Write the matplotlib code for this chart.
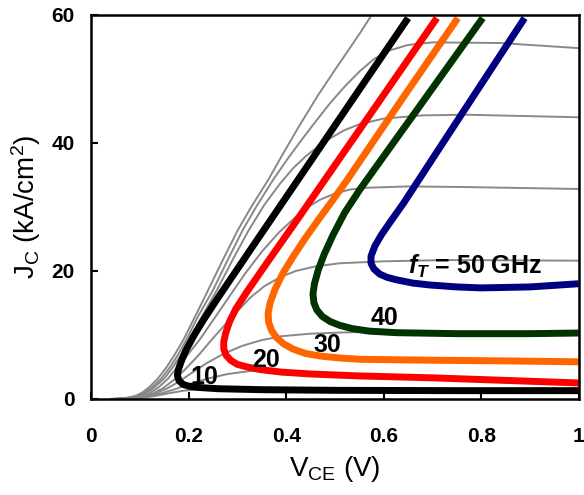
import numpy as np
import matplotlib
matplotlib.use('Agg')
import matplotlib.pyplot as plt

plt.rcParams['font.family'] = ['Liberation Sans', 'DejaVu Sans']
plt.rcParams['mathtext.fontset'] = 'custom'
plt.rcParams['mathtext.rm'] = 'Liberation Sans'
plt.rcParams['mathtext.it'] = 'Liberation Sans:italic:bold'
plt.rcParams['mathtext.bf'] = 'Liberation Sans:bold'

# gray J-V output curves, VCE in V, JC in kA/cm2
gA_x = [0.04, 0.07, 0.09, 0.105, 0.12, 0.137, 0.155, 0.172, 0.189, 0.214, 0.24, 0.27, 0.301, 0.33, 0.363,
        0.395, 0.428, 0.465, 0.50, 0.551, 0.578]
gA_y = [0, 0.15, 0.45, 1.0, 1.9, 3.2, 5.0, 7.0, 9.2, 13, 17, 21.7, 26.4, 30.2, 34.2,
        38.5, 42.8, 47.4, 51.4, 57.1, 60.3]
gB_x = [0.045, 0.075, 0.095, 0.11, 0.126, 0.144, 0.162, 0.179, 0.195, 0.22, 0.25, 0.28, 0.311, 0.34, 0.373,
        0.402, 0.428, 0.46, 0.49, 0.52, 0.551, 0.58, 0.61, 0.65, 0.70, 0.84, 1.0]
gB_y = [0, 0.15, 0.45, 1.0, 1.9, 3.2, 5.0, 7.0, 9.2, 13, 17, 21.7, 26.4, 30.2, 34.2,
        37.4, 40.1, 43.3, 46.2, 48.8, 51.2, 53.1, 54.4, 55.3, 55.7, 55.6, 54.8]
gC_x = [0.05, 0.08, 0.10, 0.115, 0.131, 0.15, 0.168, 0.185, 0.201, 0.228, 0.258, 0.29, 0.322, 0.355, 0.387,
        0.415, 0.44, 0.465, 0.49, 0.52, 0.55, 0.6, 0.68, 0.77, 1.0]
gC_y = [0, 0.15, 0.45, 1.0, 1.9, 3.2, 5.0, 7.0, 9.2, 13, 17, 21.7, 26.2, 30.3, 33.6,
        36.1, 37.9, 39.4, 40.7, 42.0, 42.9, 43.8, 44.3, 44.4, 44.0]
gD_x = [0.05, 0.085, 0.105, 0.12, 0.138, 0.157, 0.177, 0.2, 0.223, 0.25, 0.279, 0.315, 0.35, 0.385, 0.422,
        0.445, 0.469, 0.5, 0.53, 0.566, 0.65, 0.77, 1.0]
gD_y = [0, 0.15, 0.45, 0.9, 1.8, 3.1, 5.0, 7.1, 9.3, 12.3, 15.5, 19.5, 23.0, 26.0, 28.6,
        30.0, 31.1, 32.1, 32.7, 33.0, 33.2, 33.1, 32.8]
gE_x = [0.055, 0.09, 0.11, 0.128, 0.148, 0.17, 0.19, 0.22, 0.25, 0.29, 0.326, 0.355, 0.387, 0.42, 0.46,
        0.51, 0.6, 0.73, 1.0]
gE_y = [0, 0.15, 0.45, 0.9, 1.7, 3.0, 4.4, 6.8, 9.5, 12.9, 15.8, 17.6, 19.0, 20.0, 20.7,
        21.2, 21.5, 21.7, 21.6]
gF_x = [0.055, 0.09, 0.113, 0.133, 0.155, 0.18, 0.205, 0.235, 0.27, 0.31, 0.35, 0.39, 0.45, 0.52, 0.6, 1.0]
gF_y = [0, 0.15, 0.45, 0.9, 1.6, 2.7, 4.0, 5.5, 7.0, 8.3, 9.2, 9.8, 10.2, 10.4, 10.5, 10.5]
gG_x = [0.06, 0.095, 0.12, 0.145, 0.175, 0.205, 0.24, 0.28, 0.33, 0.38, 0.45, 0.6, 0.8, 1.0]
gG_y = [0, 0.15, 0.45, 0.9, 1.6, 2.4, 3.2, 3.9, 4.4, 4.4, 4.0, 3.6, 3.0, 2.5]
gH_x = [0.06, 0.1, 0.13, 0.16, 0.19, 0.23, 0.3, 0.45, 1.0]
gH_y = [0, 0.15, 0.45, 0.9, 1.3, 1.55, 1.6, 1.45, 1.3]

# constant fT contours
ft10_x = [0.650, 0.54, 0.424, 0.34, 0.261, 0.23, 0.21, 0.195, 0.185, 0.179, 0.177, 0.180, 0.188, 0.20, 0.22,
          0.26, 0.35, 0.5, 0.75, 1.0]
ft10_y = [59.5, 47.2, 34.2, 24.8, 15.9, 12.3, 9.8, 7.7, 5.9, 4.6, 3.7, 2.9, 2.3, 2.0, 1.8,
          1.6, 1.45, 1.35, 1.3, 1.3]
ft20_x = [0.709, 0.60, 0.479, 0.42, 0.361, 0.32, 0.297, 0.284, 0.276, 0.272, 0.272, 0.277, 0.287, 0.30, 0.32,
          0.346, 0.39, 0.45, 0.55, 0.70, 0.85, 1.0]
ft20_y = [59.5, 47.5, 34.2, 27.7, 21.3, 16.8, 14.1, 12.1, 10.3, 8.9, 7.8, 6.8, 6.0, 5.4, 5.0,
          4.6, 4.2, 3.9, 3.6, 3.3, 2.9, 2.5]
ft30_x = [0.752, 0.64, 0.525, 0.495, 0.469, 0.44, 0.414, 0.393, 0.377, 0.367, 0.363, 0.364, 0.370, 0.380, 0.395,
          0.414, 0.44, 0.47, 0.51, 0.551, 0.7, 0.85, 1.0]
ft30_y = [59.5, 47.1, 34.2, 31.0, 28.3, 25.2, 22.2, 19.6, 17.1, 15.0, 13.4, 12.0, 10.7, 9.6, 8.6,
          7.8, 7.1, 6.7, 6.4, 6.2, 6.05, 5.95, 5.8]
ft40_x = [0.803, 0.68, 0.551, 0.52, 0.496, 0.478, 0.466, 0.458, 0.455, 0.457, 0.463, 0.474, 0.49, 0.51, 0.535,
          0.57, 0.627, 0.75, 0.9, 1.0]
ft40_y = [59.5, 46.4, 32.7, 29.1, 25.6, 22.6, 20.2, 18.0, 16.4, 15.0, 13.9, 12.9, 12.1, 11.5, 11.0,
          10.6, 10.35, 10.2, 10.2, 10.3]
ft50_x = [0.889, 0.76, 0.64, 0.613, 0.595, 0.582, 0.574, 0.574, 0.580, 0.592, 0.607, 0.627, 0.66, 0.695, 0.75,
          0.8, 0.9, 1.0]
ft50_y = [59.5, 44.5, 30.5, 27.6, 25.6, 23.9, 22.3, 21.2, 20.3, 19.5, 19.0, 18.6, 18.1, 17.8, 17.5,
          17.35, 17.5, 18.0]

fig = plt.figure(figsize=(5.84, 4.95), dpi=100)
ax = fig.add_axes([0.156, 0.194, 0.835, 0.776])

grays = [(gA_x, gA_y), (gB_x, gB_y), (gC_x, gC_y), (gD_x, gD_y),
         (gE_x, gE_y), (gF_x, gF_y), (gG_x, gG_y), (gH_x, gH_y)]
for gx, gy in grays:
    ax.plot(gx, gy, color='#888888', lw=1.4, solid_joinstyle='round', zorder=1)

contours = [(ft10_x, ft10_y, 'black'), (ft20_x, ft20_y, '#ff0000'),
            (ft30_x, ft30_y, '#ff6600'), (ft40_x, ft40_y, '#003300'),
            (ft50_x, ft50_y, '#000080')]
for cx, cy, c in contours:
    ax.plot(cx, cy, color=c, lw=5, solid_capstyle='butt', solid_joinstyle='round', zorder=2)

lab_kw = dict(fontsize=18, fontweight='bold', ha='center', va='center', zorder=3)
ax.text(0.232, 3.4, '10', **lab_kw)
ax.text(0.358, 6.1, '20', **lab_kw)
ax.text(0.484, 8.4, '30', **lab_kw)
ax.text(0.602, 12.6, '40', **lab_kw)
ax.text(0.65, 20.7, r'$f_T$ = 50 GHz', fontsize=18, fontweight='bold', ha='left', va='center', zorder=3)

ax.set_xlim(0, 1)
ax.set_ylim(0, 60)
ax.set_xticks([0, 0.2, 0.4, 0.6, 0.8, 1])
ax.set_xticklabels(['0', '0.2', '0.4', '0.6', '0.8', '1'])
ax.set_yticks([0, 20, 40, 60])
ax.tick_params(direction='in', length=5, width=1.5, labelsize=15)
ax.tick_params(axis='x', pad=20)
ax.tick_params(axis='y', pad=12)
for lbl in ax.get_xticklabels() + ax.get_yticklabels():
    lbl.set_fontweight('bold')
for s in ax.spines.values():
    s.set_linewidth(1.8)

ax.set_xlabel(r'V$_{\rm CE}$ (V)', fontsize=20, labelpad=6)
ax.set_ylabel(r'J$_{\rm C}$ (kA/cm$^2$)', fontsize=20, labelpad=6)

fig.savefig('out.png', dpi=100)
